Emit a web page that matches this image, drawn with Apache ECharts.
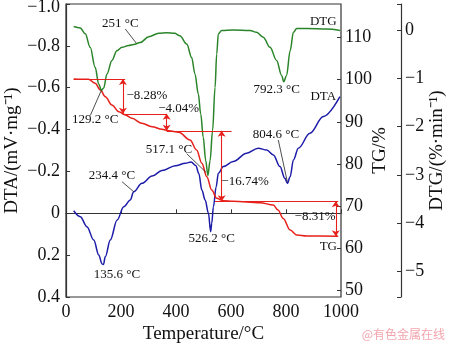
<!DOCTYPE html>
<html><head><meta charset="utf-8">
<script src="https://cdn.jsdelivr.net/npm/echarts@6/dist/echarts.min.js"></script>
<style>html,body{margin:0;padding:0;background:#fff}#c{width:450px;height:343px}</style>
</head><body><div id="c"></div>
<script>
// ---- tick labels ----
const xTicks = [0, 200, 400, 600, 800, 1000];
const dtaTicks = [-1.0, -0.8, -0.6, -0.4, -0.2, 0, 0.2, 0.4];
const tgTicks = [50, 60, 70, 80, 90, 100, 110];
const dtgTicks = [0, -1, -2, -3, -4, -5];

// ---- DTG curve ----
const dtgT = [28, 52, 70, 88, 106, 119, 129, 137, 149, 167, 185, 204, 228, 246, 270, 301, 337, 367, 395, 414, 439, 457, 469, 481, 490, 499, 508, 516, 524, 533, 542, 548, 554, 566, 608, 669, 693, 717, 742, 766, 784, 792, 802, 815, 827, 839, 875, 948, 996];
const dtgV = [0.07, 0.04, -0.08, -0.36, -0.77, -1.12, -1.25, -1.20, -0.91, -0.63, -0.43, -0.36, -0.32, -0.30, -0.26, -0.14, -0.07, -0.06, -0.07, -0.12, -0.29, -0.57, -0.91, -1.32, -1.74, -2.22, -2.70, -3.01, -2.70, -2.08, -1.19, -0.50, -0.08, -0.01, 0.00, -0.01, -0.05, -0.15, -0.36, -0.63, -0.94, -1.07, -0.94, -0.43, -0.05, 0.03, 0.03, 0.02, -0.01];

// ---- DTA curve ----
const dtaT = [28, 52, 76, 101, 119, 131, 136, 143, 161, 186, 210, 234, 246, 276, 313, 349, 398, 434, 455, 472, 483, 494, 506, 518, 526, 530, 536, 546, 554, 572, 608, 657, 699, 730, 754, 778, 796, 805, 815, 827, 845, 887, 936, 996];
const dtaV = [-0.012, 0.016, 0.064, 0.128, 0.199, 0.242, 0.245, 0.207, 0.128, 0.032, -0.031, -0.064, -0.103, -0.143, -0.178, -0.204, -0.227, -0.239, -0.245, -0.228, -0.19, -0.111, -0.064, 0.000, 0.088, 0.048, -0.031, -0.127, -0.191, -0.223, -0.247, -0.287, -0.311, -0.302, -0.279, -0.223, -0.167, -0.143, -0.175, -0.255, -0.311, -0.382, -0.462, -0.557];

// ---- TG curve ----
const tgT = [28, 82, 106, 125, 143, 167, 192, 216, 240, 276, 313, 349, 374, 410, 451, 475, 494, 512, 530, 548, 572, 608, 706, 754, 771, 790, 815, 839, 875, 990];
const tgV = [100.18, 100.1, 99.16, 97.56, 95.97, 93.99, 92.40, 91.62, 90.83, 89.64, 88.83, 88.22, 87.88, 87.5, 85.67, 83.29, 80.13, 76.94, 73.78, 71.81, 71.2, 71.1, 70.76, 70.21, 69.02, 67.0, 64.27, 63.08, 62.84, 62.81];

// ---- mass-loss step construction (TG units) ----
const stepH = [[28, 215, 100.18], [207, 367, 91.9], [366, 602, 87.86], [542, 990, 71.12]]; // [x1, x2, level]
const stepV = [[207, 100.18, 91.9], [366, 91.9, 87.86], [566, 87.86, 71.12], [981, 71.12, 62.81]]; // [x, from, to]

// ---- leader lines ----
const leadDtg = [[215.6, 0.02, 255, -0.27], [88.4, -1.77, 128.4, -1.25], [439, -2.56, 508, -2.94]];
const leadDta = [[203.6, -0.151, 246.2, -0.103], [772, -0.350, 804.7, -0.151]];

// ---- annotation texts ----
const noteText = ['251 °C', '129.2 °C', '517.1 °C', '792.3 °C', 'DTG', '234.4 °C', '135.6 °C', '526.2 °C', '804.6 °C', 'DTA', 'TG', '\u22128.28%', '\u22124.04%', '\u221216.74%', '\u22128.31%'];
const noteX = [197.5, 106.5, 374.5, 766, 935.6, 167.3, 185.5, 529.8, 763.6, 935.6, 953.8, 294.5, 409.8, 651, 905.5];
const noteY = [0.124, -1.86, -2.48, -1.24, 0.178, -0.178, 0.295, 0.119, -0.374, -0.56, 60.3, 96.2, 93.2, 75.75, 67.43];
const noteAxis = ['dtg', 'dtg', 'dtg', 'dtg', 'dtg', 'dta', 'dta', 'dta', 'dta', 'dta', 'tg', 'tg', 'tg', 'tg', 'tg'];

const FONT = 'Liberation Serif';
const INK = '#111';
const FRAME = '#333';
const BLUE = '#1c1ca8', RED = '#e6201a', GREEN = '#2a852a';

const zip = (a, b) => a.map((v, i) => [v, b[i]]);
const minus = s => String(s).replace('-', '\u2212');
const fmtDta = v => Math.abs(v) < 1e-9 ? '0' : minus(v.toFixed(1));

const chart = echarts.init(document.getElementById('c'), null, {renderer: 'canvas'});

const tickLbl = {color: INK, fontFamily: FONT, fontSize: 18};
const nameStyle = {color: INK, fontFamily: FONT, fontSize: 19};

const stepLines = [];
stepH.forEach(h => stepLines.push([{coord: [h[0], h[2]], symbol: 'none'}, {coord: [h[1], h[2]], symbol: 'none'}]));
stepV.forEach(v => stepLines.push([{coord: [v[0], v[1]], symbol: 'arrow'}, {coord: [v[0], v[2]], symbol: 'arrow'}]));

const leaderML = arr => ({
  silent: true, animation: false, symbol: ['none', 'none'],
  label: {show: false},
  lineStyle: {color: '#222', width: 0.8, type: 'solid'},
  emphasis: {disabled: true},
  data: arr.map(l => [{coord: [l[0], l[1]]}, {coord: [l[2], l[3]]}])
});

const option = {
  animation: false,
  backgroundColor: '#fff',
  grid: {left: 66, right: 109, top: 4, bottom: 46, containLabel: false, outerBoundsMode: 'none',
         show: true, borderColor: FRAME, borderWidth: 1.2},
  xAxis: {
    type: 'value', min: 0, max: 1000, interval: 200,
    axisLine: {show: true, lineStyle: {color: FRAME, width: 1.2}},
    axisTick: {inside: true, length: 4, lineStyle: {color: FRAME}},
    axisLabel: Object.assign({margin: 6, formatter: v => String(v)}, tickLbl),
    splitLine: {show: false},
    name: 'Temperature/°C', nameLocation: 'middle', nameGap: 28, nameMoveOverlap: false, nameTextStyle: nameStyle
  },
  yAxis: [
    {
      type: 'value', position: 'left', inverse: true, min: -1.0, max: 0.4, interval: 0.2,
      axisLine: {show: true, lineStyle: {color: FRAME, width: 1.2}},
      axisTick: {inside: true, length: 4, lineStyle: {color: FRAME}},
      // top label (−1.0) is drawn a little lower below so it is not cut by the window edge
      axisLabel: Object.assign({margin: 6, formatter: v => Math.abs(v + 1) < 1e-9 ? '' : fmtDta(v)}, tickLbl),
      splitLine: {show: false},
      name: 'DTA/(mV·mg\u207B\u00B9)', nameLocation: 'middle', nameGap: 44, nameMoveOverlap: false, nameRotate: 90, nameTextStyle: nameStyle
    },
    {
      type: 'value', position: 'right', min: 48.34, max: 118.0,
      axisLine: {show: false},
      axisTick: {show: true, inside: true, length: 4, lineStyle: {color: FRAME}, customValues: tgTicks},
      axisLabel: Object.assign({margin: 4, customValues: tgTicks, formatter: v => String(Math.round(v))}, tickLbl),
      splitLine: {show: false},
      name: 'TG/%', nameLocation: 'middle', nameGap: 30, nameMoveOverlap: false, nameRotate: 90, nameTextStyle: nameStyle
    },
    {
      type: 'value', position: 'right', offset: 60, min: -5.525, max: 0.537,
      axisLine: {show: true, onZero: false, lineStyle: {color: FRAME, width: 1.2}},
      axisTick: {show: true, inside: true, length: 4, lineStyle: {color: FRAME}, customValues: [-5.525].concat(dtgTicks, [0.537])},
      axisLabel: Object.assign({margin: 4, customValues: dtgTicks, formatter: v => minus(Math.round(v))}, tickLbl),
      splitLine: {show: false},
      name: 'DTG/(%·min\u207B\u00B9)', nameLocation: 'middle', nameGap: 27, nameMoveOverlap: false, nameRotate: 90, nameTextStyle: nameStyle
    }
  ],
  series: [
    {
      name: 'DTA', type: 'line', xAxisIndex: 0, yAxisIndex: 0, data: zip(dtaT, dtaV),
      showSymbol: false, smooth: 0.35, smoothMonotone: 'x',
      lineStyle: {color: BLUE, width: 1.5}, itemStyle: {color: BLUE},
      markLine: leaderML(leadDta)
    },
    {
      name: 'TG', type: 'line', xAxisIndex: 0, yAxisIndex: 1, data: zip(tgT, tgV),
      showSymbol: false, smooth: 0.35, smoothMonotone: 'x',
      lineStyle: {color: RED, width: 1.5}, itemStyle: {color: RED},
      markLine: {
        silent: true, animation: false, symbolSize: 6,
        label: {show: false}, emphasis: {disabled: true},
        lineStyle: {color: RED, width: 1.1, type: 'solid'},
        itemStyle: {color: RED},
        data: stepLines
      }
    },
    {
      name: 'DTG', type: 'line', xAxisIndex: 0, yAxisIndex: 2, data: zip(dtgT, dtgV),
      showSymbol: false, smooth: 0.35, smoothMonotone: 'x',
      lineStyle: {color: GREEN, width: 1.5}, itemStyle: {color: GREEN},
      markLine: leaderML(leadDtg)
    }
  ]
};
chart.setOption(option);

const axisSeries = {dta: 0, tg: 1, dtg: 2};
const graphics = noteText.map((t, i) => {
  const p = chart.convertToPixel({seriesIndex: axisSeries[noteAxis[i]]}, [noteX[i], noteY[i]]);
  return {
    type: 'text', silent: true, z: 50,
    style: {text: t, x: p[0], y: p[1], align: 'center', verticalAlign: 'middle', font: '13px "Liberation Serif"', fill: INK}
  };
});
// top DTA tick label, nudged down to stay inside the window
const topPos = chart.convertToPixel({seriesIndex: 0}, [0, dtaTicks[0]]);
graphics.push({
  type: 'text', silent: true,
  style: {text: fmtDta(dtaTicks[0]), x: topPos[0] - 6, y: topPos[1] + 3, align: 'right', verticalAlign: 'middle',
          font: '18px "Liberation Serif"', fill: INK}
});
graphics.push({
  type: 'text', right: 5, bottom: 3, silent: true,
  style: {text: '@有色金属在线', font: '12px "Noto Sans CJK SC"', fill: '#f3a5ae'}
});
chart.setOption({graphic: graphics});
</script>
</body></html>
